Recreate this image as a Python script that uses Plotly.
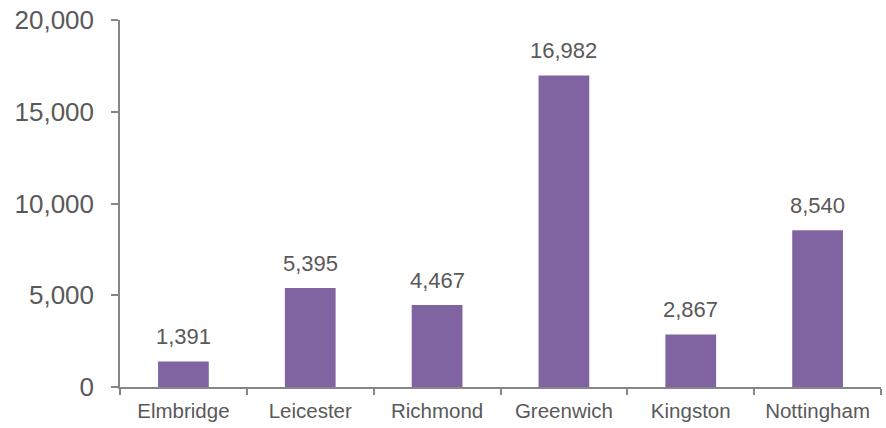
import plotly.graph_objects as go

categories = ["Elmbridge", "Leicester", "Richmond", "Greenwich", "Kingston", "Nottingham"]
values = [1391, 5395, 4467, 16982, 2867, 8540]
y_ticks = [0, 5000, 10000, 15000, 20000]
y_tick_labels = ["0", "5,000", "10,000", "15,000", "20,000"]

bar_color = "#8064A2"
text_color = "#595959"
axis_color = "#868686"
font_family = "Liberation Sans, Arial, sans-serif"

fig = go.Figure(
    go.Bar(
        x=categories,
        y=values,
        marker=dict(color=bar_color, line=dict(width=0)),
        width=0.4,
    )
)

for c, v in zip(categories, values):
    fig.add_annotation(
        x=c, y=v, text=f"{v:,}", showarrow=False,
        yanchor="bottom", yshift=10,
        font=dict(family=font_family, size=22, color=text_color),
    )

fig.update_layout(
    width=886, height=428,
    margin=dict(l=120, r=5, t=20, b=41, autoexpand=False),
    plot_bgcolor="white", paper_bgcolor="white",
    showlegend=False,
    font=dict(family=font_family, color=text_color),
)
fig.update_xaxes(
    automargin=False,
    showline=True, linecolor=axis_color, linewidth=1.5,
    ticks="outside", tickson="boundaries", ticklen=6, tickcolor=axis_color, tickwidth=1.5,
    ticklabelstandoff=5,
    tickfont=dict(family=font_family, size=20.5, color=text_color),
    showgrid=False, zeroline=False,
)
fig.update_yaxes(
    automargin=False,
    range=[0, 20000],
    tickvals=y_ticks, ticktext=y_tick_labels,
    showline=True, linecolor=axis_color, linewidth=1.5,
    ticks="outside", ticklen=7, tickcolor=axis_color, tickwidth=1.5,
    ticklabelstandoff=12,
    tickfont=dict(family=font_family, size=26, color=text_color),
    showgrid=False, zeroline=False,
)

fig.write_html(
    "out.html",
    config={"displayModeBar": False},
    post_script="document.body.style.margin='0';document.body.style.overflow='hidden';",
)
